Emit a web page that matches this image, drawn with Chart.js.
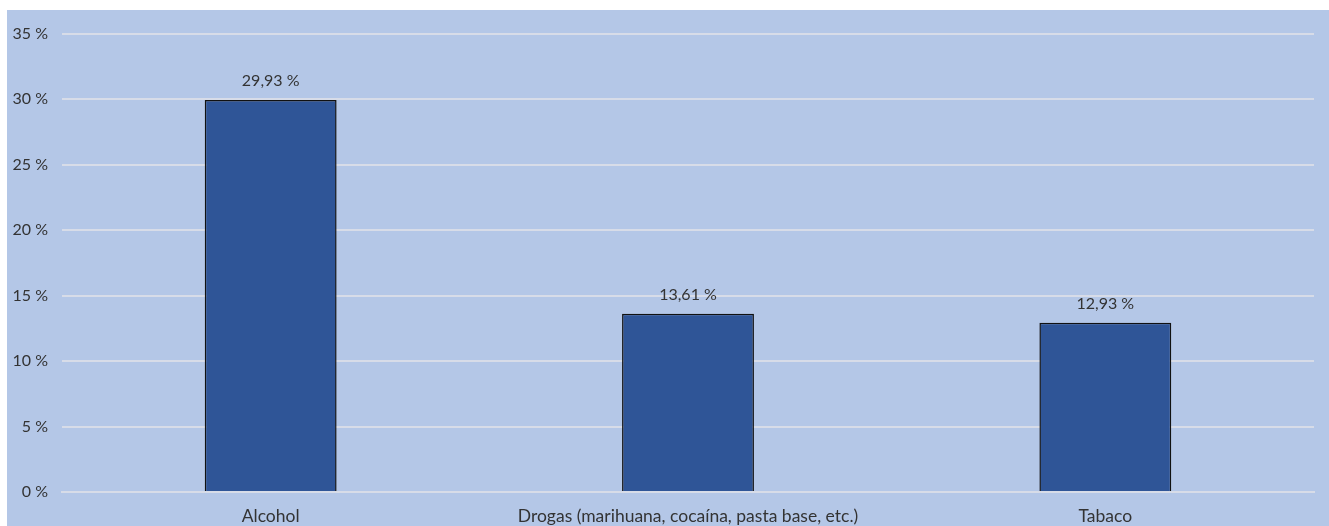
<!DOCTYPE html>
<html>
<head>
<meta charset="utf-8">
<script src="https://cdn.jsdelivr.net/npm/chart.js@4/dist/chart.umd.min.js"></script>
<style>
  html, body { margin: 0; padding: 0; background: #ffffff; }
  #wrap { position: absolute; left: 7px; top: 10px; width: 1322px; height: 516px; background: #b4c7e7; }
  canvas { display: block; }
</style>
</head>
<body>
<div id="wrap"><canvas id="c" width="1322" height="516"></canvas></div>
<script>
const categories = ["Alcohol", "Drogas (marihuana, cocaína, pasta base, etc.)", "Tabaco"];
const values = [29.93, 13.61, 12.93];
const yTicks = [0, 5, 10, 15, 20, 25, 30, 35];

const fmt = v => v.toFixed(2).replace('.', ',') + ' %';
const FONT = "Lato, 'Open Sans', sans-serif";
const FSIZE = 16;

const labelPlugin = {
  id: 'valueLabels',
  afterDatasetsDraw(chart) {
    const ctx = chart.ctx;
    const meta = chart.getDatasetMeta(0);
    ctx.save();
    ctx.font = FSIZE + "px " + FONT;
    ctx.fillStyle = '#333333';
    ctx.textAlign = 'center';
    ctx.textBaseline = 'middle';
    meta.data.forEach((bar, i) => {
      ctx.fillText(fmt(values[i]), bar.x, bar.y - 19);
    });
    ctx.restore();
  }
};

new Chart(document.getElementById('c'), {
  type: 'bar',
  data: {
    labels: categories,
    datasets: [{
      data: values,
      backgroundColor: '#2f5597',
      borderColor: '#111111',
      borderWidth: 1.5,
      barPercentage: 0.316,
      categoryPercentage: 1
    }]
  },
  options: {
    responsive: false,
    animation: false,
    devicePixelRatio: 1,
    layout: { padding: { top: 23, right: 15, left: 0, bottom: 0 } },
    plugins: { legend: { display: false }, tooltip: { enabled: false } },
    scales: {
      x: {
        grid: { display: false, drawTicks: false },
        border: { display: true, color: 'rgba(215,220,232,1)', width: 2 },
        ticks: { color: '#333333', font: { family: FONT, size: 17.5 }, padding: 14, maxRotation: 0 },
        afterFit(s) { s.height = 34; }
      },
      y: {
        min: 0, max: 35,
        afterBuildTicks(s) { s.ticks = yTicks.map(v => ({ value: v })); },
        grid: { color: 'rgba(215,220,232,1)', lineWidth: 2, drawTicks: false },
        border: { display: false },
        ticks: { color: '#333333', font: { family: FONT, size: FSIZE }, padding: 14, callback: v => v + ' %' },
        afterFit(s) { s.width = 55; }
      }
    }
  },
  plugins: [labelPlugin]
});
</script>
</body>
</html>
